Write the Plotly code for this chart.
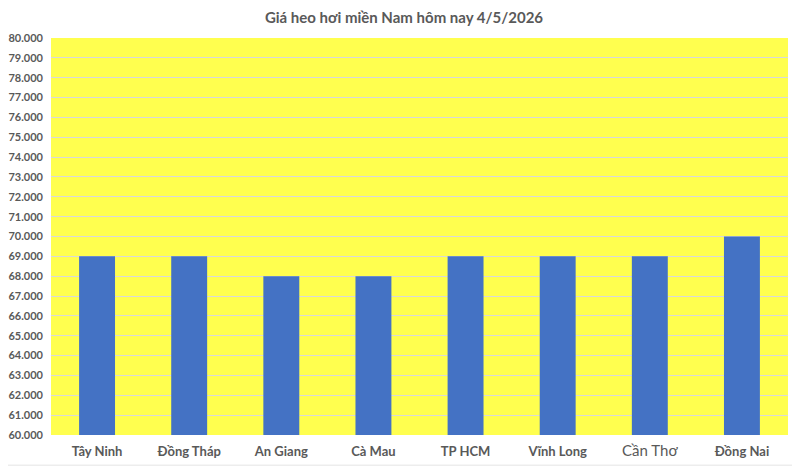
import plotly.graph_objects as go

# data
provinces = ["Tây Ninh", "Đồng Tháp", "An Giang", "Cà Mau", "TP HCM", "Vĩnh Long", "Cần Thơ", "Đồng Nai"]
prices = [69000, 69000, 68000, 68000, 69000, 69000, 69000, 70000]
tick_vals = list(range(60000, 80001, 1000))

# "Cần Thơ" is drawn in a different (non bold, larger) font in the original
tick_text = []
for p in provinces:
    if p == "Cần Thơ":
        tick_text.append('<span style="font-size:15px">' + p + '</span>')
    else:
        tick_text.append("<b>" + p + "</b>")

fig = go.Figure()
fig.add_trace(go.Bar(
    x=provinces,
    y=prices,
    marker=dict(color="#4472C4", line=dict(width=0)),
    width=0.39,
))

# faint chart frame on the right and bottom
frame = [
    dict(type="line", xref="paper", yref="paper", x0=1.012, x1=1.012, y0=-0.076, y1=1.08,
         line=dict(color="#E4E4E4", width=1)),
    dict(type="line", xref="paper", yref="paper", x0=-0.06, x1=1.012, y0=-0.076, y1=-0.076,
         line=dict(color="#E4E4E4", width=1)),
]

# page body has an 8px margin, so the figure is sized to fit the window
fig.update_layout(
    width=792,
    height=460,
    separators=",.",
    paper_bgcolor="white",
    plot_bgcolor="#FFFF4F",
    margin=dict(l=43, r=12, t=30, b=33),
    font=dict(family="Lato, 'Liberation Sans', sans-serif", color="#595959"),
    title=dict(
        text="<b>Giá heo hơi miền Nam hôm nay 4/5/2026</b>",
        x=0.5, xanchor="center",
        yref="container", y=0.978, yanchor="middle",
        font=dict(size=15, color="#595959"),
    ),
    showlegend=False,
    shapes=frame,
)

fig.update_xaxes(
    tickmode="array",
    tickvals=provinces,
    ticktext=tick_text,
    tickfont=dict(size=13, color="#595959"),
    ticklabelstandoff=7,
    showline=False,
    ticks="",
    showgrid=False,
    automargin=False,
)

fig.update_yaxes(
    range=[60000, 80000],
    tickmode="array",
    tickvals=tick_vals,
    tickformat=",d",
    tickfont=dict(size=11, color="#595959", weight="bold"),
    ticklabelstandoff=7,
    automargin=False,
    showgrid=True,
    gridcolor="#D9D9D9",
    gridwidth=1,
    zeroline=False,
    showline=False,
    ticks="",
)

fig.write_html("out.html")
